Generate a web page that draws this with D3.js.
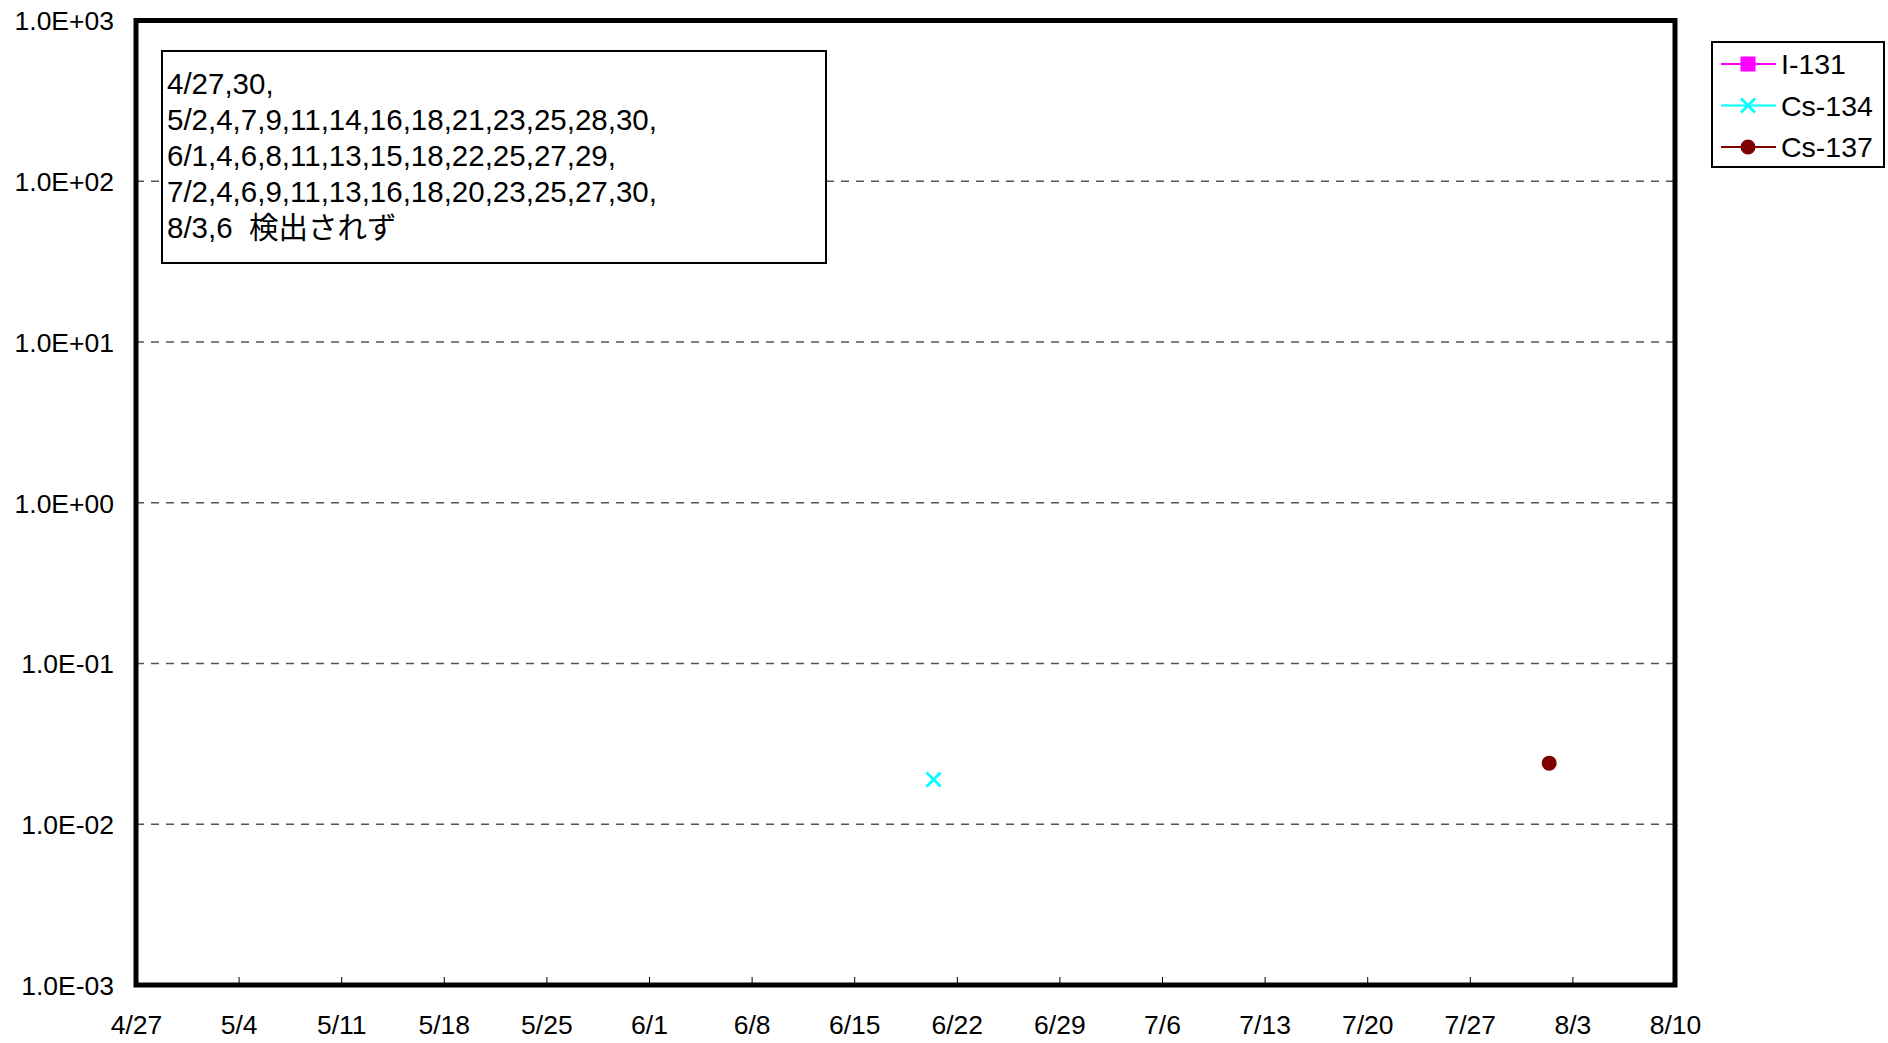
<!DOCTYPE html>
<html>
<head>
<meta charset="utf-8">
<script src="https://cdn.jsdelivr.net/npm/d3@7"></script>
<style>
  html, body { margin: 0; padding: 0; background: #fff; overflow: hidden; }
  svg { display: block; }
  svg text { font-family: "Liberation Sans", Arial, "Noto Sans CJK JP", sans-serif; fill: #000; }
</style>
</head>
<body>
<div id="chart"></div>
<script>
// ---- data ----
const xTickLabels = ["4/27", "5/4", "5/11", "5/18", "5/25", "6/1", "6/8", "6/15",
                     "6/22", "6/29", "7/6", "7/13", "7/20", "7/27", "8/3", "8/10"];
const yTickValues = [1e-3, 1e-2, 1e-1, 1e0, 1e1, 1e2, 1e3];
const seriesNames = ["I-131", "Cs-134", "Cs-137"];
const i131Dates = [];
const i131Values = [];
const cs134Dates = ["2011-06-20T10:00"];
const cs134Values = [0.019];
const cs137Dates = ["2011-08-01T10:00"];
const cs137Values = [0.024];
const noteLines = [
  "4/27,30,",
  "5/2,4,7,9,11,14,16,18,21,23,25,28,30,",
  "6/1,4,6,8,11,13,15,18,22,25,27,29,",
  "7/2,4,6,9,11,13,16,18,20,23,25,27,30,",
  "8/3,6\u00a0\u00a0検出されず"
];

// ---- layout ----
const width = 1888, height = 1043;
const margin = { left: 136, top: 20.5, right: 1888 - 1675, bottom: 1043 - 985 };
const innerWidth = width - margin.left - margin.right;
const innerHeight = height - margin.top - margin.bottom;

const parseTick = s => { const [m, d] = s.split("/").map(Number); return new Date(2011, m - 1, d); };
const parseDate = d3.timeParse("%Y-%m-%dT%H:%M");

const xScale = d3.scaleTime()
  .domain([parseTick(xTickLabels[0]), parseTick(xTickLabels[xTickLabels.length - 1])])
  .range([0, innerWidth]);
const yScale = d3.scaleLog().domain([1e-3, 1e3]).range([innerHeight, 0]);

const series = [
  { name: seriesNames[0], color: "#ff00ff", symbol: "square", dates: i131Dates, values: i131Values },
  { name: seriesNames[1], color: "#00ffff", symbol: "cross", dates: cs134Dates, values: cs134Values },
  { name: seriesNames[2], color: "#800000", symbol: "circle", dates: cs137Dates, values: cs137Values }
];

const svg = d3.select("#chart").append("svg")
  .attr("width", width).attr("height", height);
const g = svg.append("g").attr("transform", `translate(${margin.left},${margin.top})`);

// ---- grid ----
g.append("g").selectAll("line")
  .data(yTickValues.slice(1, -1))
  .join("line")
  .attr("x1", 0).attr("x2", innerWidth)
  .attr("y1", d => yScale(d)).attr("y2", d => yScale(d))
  .attr("stroke", "#555").attr("stroke-width", 1.5)
  .attr("stroke-dasharray", "8,7");

// ---- x axis ----
const xTicks = xTickLabels.map(parseTick);
g.append("g")
  .attr("transform", `translate(0,${innerHeight})`)
  .call(d3.axisBottom(xScale).tickValues(xTicks).tickSizeInner(-8).tickSizeOuter(0).tickFormat((d, i) => xTickLabels[i]))
  .call(a => a.select(".domain").remove())
  .call(a => a.selectAll(".tick line").attr("stroke", "#000").attr("stroke-width", 1))
  .call(a => a.selectAll(".tick text").attr("y", 49).attr("dy", 0).attr("font-size", 26.5)
      .attr("font-family", "'Liberation Sans', Arial, sans-serif").attr("fill", "#000"));

// ---- y axis ----
g.append("g")
  .call(d3.axisLeft(yScale).tickValues(yTickValues).tickSize(0)
      .tickFormat(d => { const e = Math.round(Math.log10(d)); return "1.0E" + (e < 0 ? "-" : "+") + String(Math.abs(e)).padStart(2, "0"); }))
  .call(a => a.select(".domain").remove())
  .call(a => a.selectAll(".tick text").attr("x", -22).attr("dy", "0.35em").attr("font-size", 26.5)
      .attr("font-family", "'Liberation Sans', Arial, sans-serif").attr("fill", "#000"));

// ---- plot frame ----
g.append("rect")
  .attr("x", 0).attr("y", 0).attr("width", innerWidth).attr("height", innerHeight)
  .attr("fill", "none").attr("stroke", "#000").attr("stroke-width", 5);

// ---- markers ----
function drawSymbol(sel, s, size) {
  if (s.symbol === "square") {
    sel.append("rect").attr("x", -size / 2).attr("y", -size / 2).attr("width", size).attr("height", size)
      .attr("fill", s.color);
  } else if (s.symbol === "cross") {
    const h = size / 2 - 0.5;
    sel.append("path").attr("d", `M${-h},${-h}L${h},${h}M${-h},${h}L${h},${-h}`)
      .attr("stroke", s.color).attr("stroke-width", 2.8).attr("fill", "none");
  } else {
    sel.append("circle").attr("r", size / 2).attr("fill", s.color);
  }
}

series.forEach(s => {
  const pts = s.dates.map((d, i) => ({ x: parseDate(d), y: s.values[i] }));
  const line = d3.line().x(d => xScale(d.x)).y(d => yScale(d.y));
  g.append("path").datum(pts).attr("d", line).attr("fill", "none")
    .attr("stroke", s.color).attr("stroke-width", 2);
  g.selectAll(null).data(pts).join("g")
    .attr("transform", d => `translate(${xScale(d.x)},${yScale(d.y)})`)
    .each(function () { drawSymbol(d3.select(this), s, 15); });
});

// ---- note box ----
const note = svg.append("g");
note.append("rect")
  .attr("x", 162).attr("y", 51).attr("width", 664).attr("height", 212)
  .attr("fill", "#fff").attr("stroke", "#000").attr("stroke-width", 2);
note.selectAll("text").data(noteLines).join("text")
  .attr("x", 167).attr("y", (d, i) => 94 + i * 36)
  .attr("font-size", 29.5)
  .text(d => d);

// ---- legend ----
const legend = svg.append("g");
legend.append("rect")
  .attr("x", 1712).attr("y", 42).attr("width", 172).attr("height", 125)
  .attr("fill", "#fff").attr("stroke", "#000").attr("stroke-width", 2);
series.forEach((s, i) => {
  const cy = 64 + i * 41.5;
  legend.append("line").attr("x1", 1721).attr("x2", 1776).attr("y1", cy).attr("y2", cy)
    .attr("stroke", s.color).attr("stroke-width", 2);
  drawSymbol(legend.append("g").attr("transform", `translate(1748,${cy})`), s, 15);
  legend.append("text").attr("x", 1781).attr("y", cy).attr("dy", "0.36em")
    .attr("font-size", 28.5).text(s.name);
});
</script>
</body>
</html>
